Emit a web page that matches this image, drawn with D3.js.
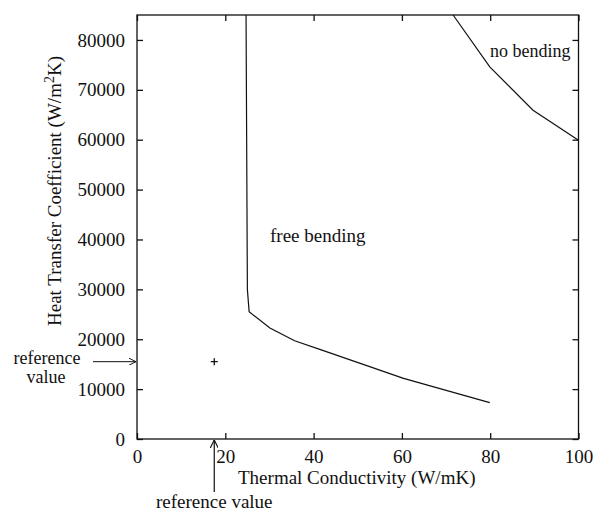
<!DOCTYPE html>
<html><head><meta charset="utf-8">
<script src="https://cdn.jsdelivr.net/npm/d3@7"></script>
<style>body{margin:0;background:#fff}text{font-family:"Liberation Serif","Times New Roman",serif;fill:#111}</style>
</head><body><svg id="c" width="610" height="514"></svg>
<script>
const xTicks = [0, 20, 40, 60, 80, 100];
const yTicks = [0, 10000, 20000, 30000, 40000, 50000, 60000, 70000, 80000];
const freeK = [24.7, 25.0, 25.4, 30.1, 35.7, 41.4, 52.7, 60.2, 65.8, 79.9];
const freeH = [85000, 30000, 25500, 22250, 19700, 17970, 14500, 12200, 10800, 7300];
const noK = [71.6, 79.9, 89.7, 100];
const noH = [85000, 74600, 65900, 59900];
const refK = 17.5, refH = 15500;

const svg = d3.select("#c");
const L = 137, R = 578.5, T = 15, B = 439;
const x = d3.scaleLinear().domain([0, 100]).range([L, R]);
const y = d3.scaleLinear().domain([0, 85000]).range([B, T]);
const fs = 19;

svg.append("rect").attr("x", L).attr("y", T).attr("width", R - L).attr("height", B - T)
  .attr("fill", "none").attr("stroke", "#111").attr("stroke-width", 1.3);

const tk = 6;
const gx = svg.append("g").attr("transform", `translate(0,${B})`)
  .call(d3.axisBottom(x).tickValues(xTicks).tickSize(-tk).tickPadding(11).tickFormat(d3.format("d")));
const gy = svg.append("g").attr("transform", `translate(${L},0)`)
  .call(d3.axisLeft(y).tickValues(yTicks).tickSize(-tk).tickPadding(12).tickFormat(d3.format("d")));
const gxt = svg.append("g").attr("transform", `translate(0,${T})`)
  .call(d3.axisTop(x).tickValues(xTicks).tickSize(-tk).tickFormat(""));
const gyr = svg.append("g").attr("transform", `translate(${R},0)`)
  .call(d3.axisRight(y).tickValues(yTicks).tickSize(-tk).tickFormat(""));
[gx, gy, gxt, gyr].forEach(g => {
  g.select(".domain").remove();
  g.selectAll("line").attr("stroke", "#111").attr("stroke-width", 1.3);
  g.selectAll("text").attr("font-size", fs).attr("font-family", "Liberation Serif").attr("fill", "#111");
});

const line = d3.line().x(d => x(d[0])).y(d => y(d[1]));
svg.append("path").datum(freeK.map((k, i) => [k, freeH[i]])).attr("d", line)
  .attr("fill", "none").attr("stroke", "#111").attr("stroke-width", 1.2);
svg.append("path").datum(noK.map((k, i) => [k, noH[i]])).attr("d", line)
  .attr("fill", "none").attr("stroke", "#111").attr("stroke-width", 1.2);

// reference point
const px = x(refK), py = y(refH);
svg.append("path").attr("d", `M${px-3.5},${py}H${px+3.5}M${px},${py-3.5}V${py+3.5}`)
  .attr("stroke", "#111").attr("stroke-width", 1.3);

// region labels
svg.append("text").attr("x", 490).attr("y", 57).attr("font-size", 18).text("no bending");
svg.append("text").attr("x", 270).attr("y", 242).attr("font-size", fs).text("free bending");

// axis titles
svg.append("text").attr("x", (L + R) / 2 - 1).attr("y", 484).attr("text-anchor", "middle")
  .attr("font-size", fs).text("Thermal Conductivity (W/mK)");
const yt = svg.append("text").attr("transform", `translate(61,191) rotate(-90)`)
  .attr("text-anchor", "middle").attr("font-size", fs);
yt.append("tspan").text("Heat Transfer Coefficient (W/m");
yt.append("tspan").attr("font-size", 14).attr("dy", -7).text("2");
yt.append("tspan").attr("dy", 7).text("K)");

// reference arrows
const defs = svg.append("defs");
defs.append("marker").attr("id", "ah").attr("viewBox", "0 0 10 10").attr("refX", 10).attr("refY", 5)
  .attr("markerWidth", 7).attr("markerHeight", 7).attr("orient", "auto")
  .append("path").attr("d", "M0,0L10,5L0,10").attr("fill", "none").attr("stroke", "#111").attr("stroke-width", 1.4);
svg.append("line").attr("x1", 93).attr("x2", L - 1).attr("y1", y(refH)).attr("y2", y(refH))
  .attr("stroke", "#111").attr("stroke-width", 1).attr("marker-end", "url(#ah)");
svg.append("line").attr("x1", x(refK)).attr("x2", x(refK)).attr("y1", 492).attr("y2", B + 1)
  .attr("stroke", "#111").attr("stroke-width", 1.2).attr("marker-end", "url(#ah)");
svg.append("text").attr("x", 47).attr("y", 364).attr("text-anchor", "middle").attr("font-size", 18).text("reference");
svg.append("text").attr("x", 46).attr("y", 383).attr("text-anchor", "middle").attr("font-size", 18).text("value");
svg.append("text").attr("x", x(refK)).attr("y", 508).attr("text-anchor", "middle").attr("font-size", fs).text("reference value");
</script></body></html>
